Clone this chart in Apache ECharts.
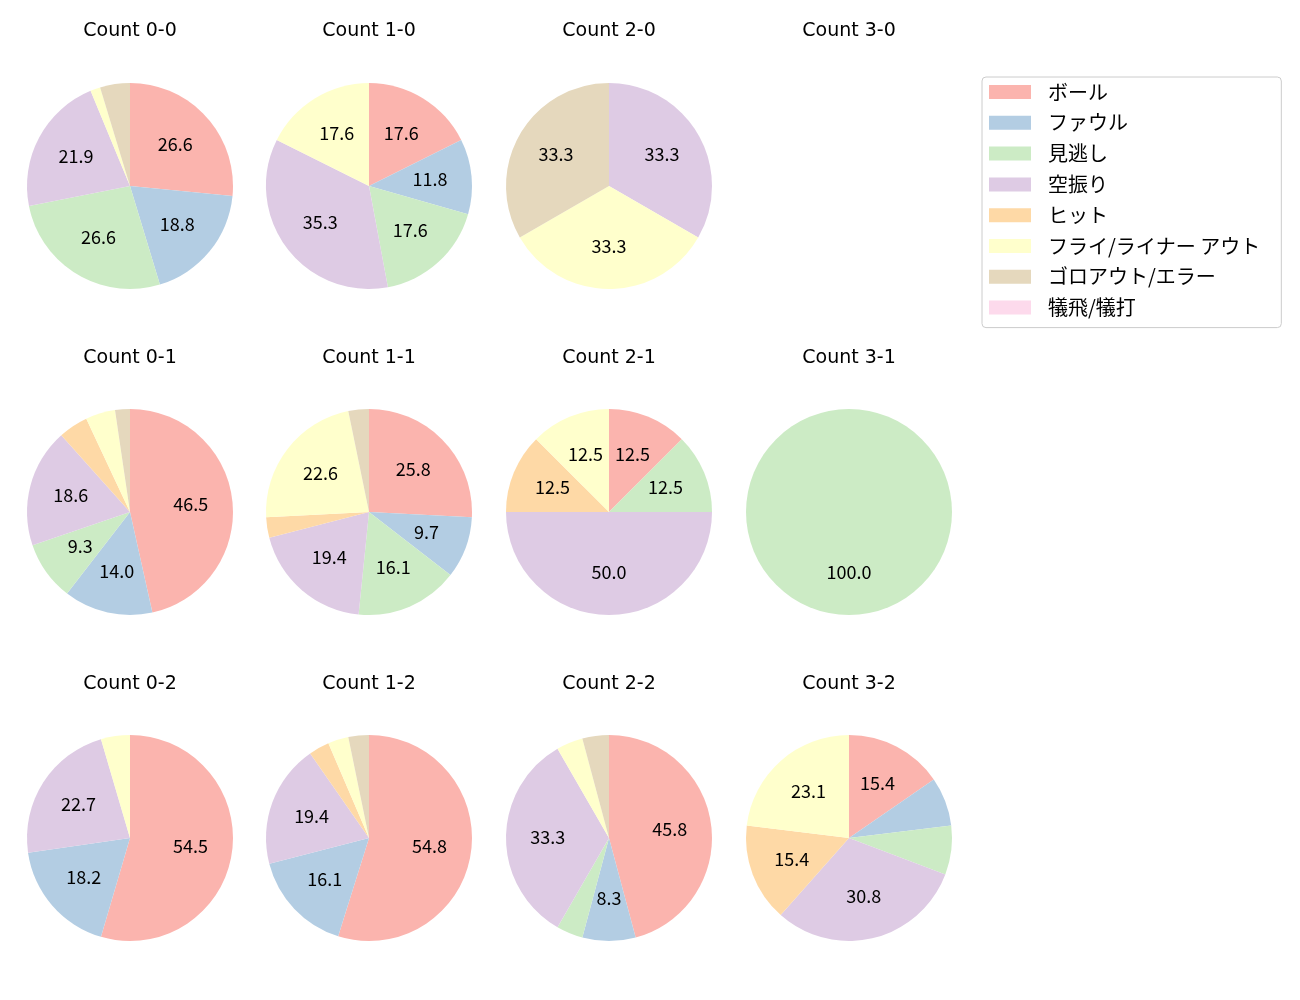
<!DOCTYPE html>
<html>
<head>
<meta charset="utf-8">
<script src="https://cdn.jsdelivr.net/npm/echarts@6/dist/echarts.min.js"></script>
<style>
  html, body { margin: 0; padding: 0; background: #fff; }
  #chart { width: 1300px; height: 1000px; }
</style>
</head>
<body>
<div id="chart"></div>
<script>
// result categories (legend order)
const categories = ['ボール', 'ファウル', '見逃し', '空振り', 'ヒット', 'フライ/ライナー アウト', 'ゴロアウト/エラー', '犠飛/犠打'];
const colors = ['#fbb4ae', '#b3cde3', '#ccebc5', '#decbe4', '#fed9a6', '#ffffcc', '#e5d8bd', '#fddaec'];

// pitch counts per ball-strike state, same order as categories
const titles = [
  'Count 0-0', 'Count 1-0', 'Count 2-0', 'Count 3-0',
  'Count 0-1', 'Count 1-1', 'Count 2-1', 'Count 3-1',
  'Count 0-2', 'Count 1-2', 'Count 2-2', 'Count 3-2',
];
const count00 = [17, 12, 17, 14, 0, 1, 3, 0];
const count10 = [3, 2, 3, 6, 0, 3, 0, 0];
const count20 = [0, 0, 0, 1, 0, 1, 1, 0];
const count30 = [0, 0, 0, 0, 0, 0, 0, 0];
const count01 = [20, 6, 4, 8, 2, 2, 1, 0];
const count11 = [8, 3, 5, 6, 1, 7, 1, 0];
const count21 = [1, 0, 1, 4, 1, 1, 0, 0];
const count31 = [0, 0, 1, 0, 0, 0, 0, 0];
const count02 = [12, 4, 0, 5, 0, 1, 0, 0];
const count12 = [17, 5, 0, 6, 1, 1, 1, 0];
const count22 = [11, 2, 1, 8, 0, 1, 1, 0];
const count32 = [2, 1, 1, 4, 2, 3, 0, 0];
const allCounts = [count00, count10, count20, count30, count01, count11, count21, count31, count02, count12, count22, count32];

const colX = [130, 369, 609, 849];
const rowY = [186, 512, 838];
const titleTop = [22, 349, 675];
const R = 103;
const FONT = '"Noto Sans CJK JP", "Noto Sans", sans-serif';
const TITLE_FONT = '"DejaVu Sans", sans-serif';

const chart = echarts.init(document.getElementById('chart'));

const titleOpts = [];
const pieSeries = [];
const labelSeries = [];

allCounts.forEach((vals, idx) => {
  const col = idx % 4;
  const row = Math.floor(idx / 4);
  titleOpts.push({
    text: titles[idx],
    left: colX[col],
    top: titleTop[row],
    padding: 0,
    textAlign: 'center',
    textStyle: { fontFamily: TITLE_FONT, fontSize: 19, fontWeight: 'normal', color: '#000' },
  });
  const total = vals.reduce((a, b) => a + b, 0);
  if (!total) return;
  // zero entries stay in (invisible) so the legend knows every name
  const data = categories.map((name, i) => ({ name, value: vals[i], itemStyle: { color: colors[i] } }));
  pieSeries.push({
    type: 'pie',
    center: [colX[col], rowY[row]],
    radius: [0, R],
    startAngle: 90,
    clockwise: true,
    silent: true,
    label: { show: false },
    labelLine: { show: false },
    itemStyle: { borderWidth: 0 },
    data,
  });
  // transparent ring so inside labels sit at ~0.6 of the radius
  labelSeries.push({
    type: 'pie',
    center: [colX[col], rowY[row]],
    radius: [R * 0.13, R],
    startAngle: 90,
    clockwise: true,
    silent: true,
    legendHoverLink: false,
    itemStyle: { color: 'rgba(0,0,0,0)', borderWidth: 0 },
    label: {
      show: true,
      position: 'inside',
      fontFamily: FONT,
      fontSize: 18,
      color: '#000',
      offset: [0, -1],
      formatter: (p) => {
        const pct = (p.value / total) * 100;
        return pct >= 8 ? pct.toFixed(1) : '';
      },
    },
    labelLine: { show: false },
    data: data.filter((d) => d.value > 0).map((d) => ({ name: d.name, value: d.value })),
  });
});

chart.setOption({
  animation: false,
  title: titleOpts,
  legend: {
    orient: 'vertical',
    left: 982,
    top: 77,
    padding: [5, 21, 10, 7],
    itemWidth: 42,
    itemHeight: 14,
    itemGap: 10.8,
    borderColor: '#cccccc',
    borderWidth: 1,
    borderRadius: 4,
    icon: 'rect',
    selectedMode: false,
    textStyle: { fontFamily: FONT, fontSize: 20, lineHeight: 19, color: '#000', padding: [0, 0, 0, 12] },
    data: categories.map((name, i) => ({ name, itemStyle: { color: colors[i] } })),
  },
  series: pieSeries.concat(labelSeries),
});
</script>
</body>
</html>
